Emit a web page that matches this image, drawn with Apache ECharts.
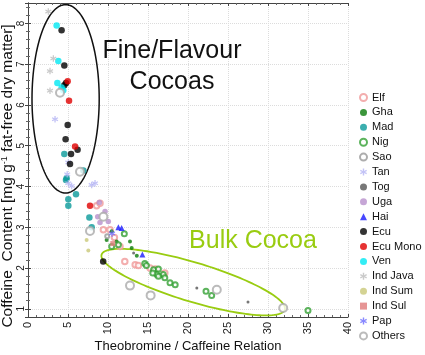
<!DOCTYPE html>
<html><head><meta charset="utf-8">
<script src="https://cdn.jsdelivr.net/npm/echarts@6/dist/echarts.min.js"></script>
<style>html,body{margin:0;padding:0;background:#fff}#c{width:425px;height:355px}</style>
</head><body><div id="c"></div>
<script>
// ---- data (x = Theobromine/Caffeine relation, y = caffeine content) ----
const categories = ['Elf','Gha','Mad','Nig','Sao','Tan','Tog','Uga','Hai','Ecu','Ecu Mono','Ven','Ind Java','Ind Sum','Ind Sul','Pap','Others'];
const elf = [[8.58,3.53],[9.42,2.94],[10.25,2.94],[10.8,2.75],[11.5,2.53],[12.1,2.16],[13.4,2.08],[13.8,2.06],[15.25,2.0],[15.9,1.98],[17.1,1.88],[9.0,3.59]];
const gha = [[10.46,2.90],[9.83,2.69],[11.08,2.65],[12.75,2.65],[12.96,2.49],[13.6,2.30],[16.7,1.81]];
const mad = [[4.54,4.80],[6.92,4.39],[4.83,4.20],[4.75,4.16],[6.0,3.81],[5.04,3.69],[5.04,3.53],[7.67,3.24],[7.96,3.0]];
const nig = [[12.04,2.84],[11.3,2.57],[10.46,2.53],[14.6,2.11],[14.8,2.06],[15.7,1.96],[16.3,1.98],[16.1,1.84],[15.6,1.88],[16.9,1.84],[16.3,1.80],[17.1,1.76],[17.75,1.64],[18.4,1.59],[22.25,1.43],[22.96,1.33],[35.0,0.96]];
const sao = [[9.9,2.78]];
const tan = [[3.38,5.65],[5.04,4.59],[5.04,4.08],[5.46,4.01],[7.96,4.04],[8.38,4.08],[4.9,4.3]];
const tog = [[13.2,2.37],[21.1,1.51],[27.5,1.17]];
const uga = [[8.92,3.61],[8.71,3.26],[9.63,3.39],[9.0,3.12],[10.04,3.14]];
const hai = [[11.3,3.0],[11.7,2.98],[14.3,2.33]];
const ecu = [[4.2,7.83],[4.54,6.97],[4.75,6.54],[4.54,6.48],[4.96,5.51],[4.7,5.16],[6.2,4.90],[5.38,4.80],[5.25,4.55],[9.4,2.16]];
const ecuMono = [[4.96,6.58],[5.13,6.10],[5.88,4.98],[7.75,3.53]];
const ven = [[3.58,7.95],[3.79,7.08],[3.67,6.54],[4.2,6.43],[4.41,6.36]];
const indJava = [[2.54,8.29],[3.17,7.14],[2.75,6.83],[2.75,6.35]];
const indSum = [[7.33,2.69],[7.54,2.43]];
const indSul = [[10.6,2.6]];
const pap = [[10.5,2.85]];
const others = [[4.0,6.30],[6.5,4.36],[9.42,3.26],[7.75,2.91],[12.75,1.57],[15.33,1.33],[23.6,1.47],[31.9,1.02]];
// annotation ellipses (data units)
const fineEllipse = [4.7, 6.15, 4.2, 2.31];          // cx, cy, rx, ry
const bulkEllipse = [9.2, 2.33, 32.1, 0.98, 0.48];   // tip1 x,y ; tip2 x,y ; half-width (y units)
const xTicks = [0, 40, 5];

const seriesData = [elf,gha,mad,nig,sao,tan,tog,uga,hai,ecu,ecuMono,ven,indJava,indSum,indSul,pap,others];
const asterisk = 'path://M4,0L6,0L6,3.5L9,1.8L10,3.5L7,5L10,6.5L9,8.2L6,6.5L6,10L4,10L4,6.5L1,8.2L0,6.5L3,5L0,3.5L1,1.8L4,3.5Z';
const styles = [
  {symbol:'emptyCircle', color:'#f09a9a', size:5.5},
  {symbol:'circle', color:'#0a7a0a', size:4},
  {symbol:'circle', color:'#0a9a9a', size:6.5},
  {symbol:'emptyCircle', color:'#33a033', size:5},
  {symbol:'emptyCircle', color:'#999999', size:4},
  {symbol:asterisk, color:'#b4b4f4', size:6.5},
  {symbol:'circle', color:'#555555', size:3},
  {symbol:'circle', color:'#b890cc', size:5.5},
  {symbol:'triangle', color:'#1a1aff', size:6},
  {symbol:'circle', color:'#000000', size:6.5},
  {symbol:'circle', color:'#e00000', size:6.5},
  {symbol:'circle', color:'#00e8f2', size:6.5},
  {symbol:asterisk, color:'#bdbdbd', size:6.5},
  {symbol:'circle', color:'#c9c878', size:4},
  {symbol:'rect', color:'#e07a7a', size:5},
  {symbol:asterisk, color:'#6a6aff', size:6.5},
  {symbol:'emptyCircle', color:'#aaaaaa', size:8}
];

const font = '"Liberation Sans", Arial, sans-serif';
const series = categories.map((name, i) => ({
  name, type:'scatter', data: seriesData[i], symbol: styles[i].symbol, symbolSize: styles[i].size,
  itemStyle: {color: styles[i].color, borderColor: styles[i].color, borderWidth: styles[i].symbol==='emptyCircle'?1.3:0},
  emphasis:{disabled:true}, z:3
}));

series.push({
  type:'custom', name:'fineEllipse', silent:true, clip:false, z:2, data:[[fineEllipse[0], fineEllipse[1]]],
  renderItem(params, api){
    const c = api.coord([fineEllipse[0], fineEllipse[1]]);
    const s = api.size([fineEllipse[2], fineEllipse[3]]);
    const pts = [];
    for (let k=0;k<=120;k++){ const t = k/120*Math.PI*2; pts.push([c[0]+s[0]*Math.cos(t), c[1]+s[1]*Math.sin(t)]); }
    return {type:'polygon', shape:{points:pts}, style:{fill:'none', stroke:'#111', lineWidth:1.5}};
  }
});
series.push({
  type:'custom', name:'bulkEllipse', silent:true, clip:false, z:2, data:[[bulkEllipse[0], bulkEllipse[1]]],
  renderItem(params, api){
    const p1 = api.coord([bulkEllipse[0], bulkEllipse[1]]);
    const p2 = api.coord([bulkEllipse[2], bulkEllipse[3]]);
    const cx=(p1[0]+p2[0])/2, cy=(p1[1]+p2[1])/2;
    const a = Math.hypot(p2[0]-p1[0], p2[1]-p1[1])/2;
    const th = Math.atan2(p2[1]-p1[1], p2[0]-p1[0]);
    const b = api.size([0, bulkEllipse[4]])[1];
    const pts = [];
    for (let k=0;k<=160;k++){ const t=k/160*Math.PI*2;
      pts.push([cx + a*Math.cos(t)*Math.cos(th) - b*Math.sin(t)*Math.sin(th), cy + a*Math.cos(t)*Math.sin(th) + b*Math.sin(t)*Math.cos(th)]); }
    return {type:'polygon', shape:{points:pts}, style:{fill:'none', stroke:'#99cc11', lineWidth:1.8}};
  }
});

const axisLineStyle = {color:'#444', width:1};
const splitLine = {show:true, lineStyle:{color:'#dcdcdc', type:'dotted', width:1}};
const chart = echarts.init(document.getElementById('c'), null, {renderer:'canvas'});
chart.setOption({
  animation:false,
  backgroundColor:'#fff',
  grid:{left:28, right:77, top:3, bottom:38, containLabel:false, outerBoundsMode:'none'},
  legend:{
    data: categories, orient:'vertical', left:359, top:91, padding:0, itemWidth:7, itemHeight:7, itemGap:1.9,
    textStyle:{fontSize:11, fontFamily:font, color:'#111', lineHeight:13}, selectedMode:false
  },
  xAxis:[
    {type:'value', min:xTicks[0], max:xTicks[1], interval:xTicks[2], position:'bottom',
     name:'Theobromine / Caffeine Relation', nameLocation:'middle', nameGap:23, nameMoveOverlap:false,
     nameTextStyle:{fontSize:13, fontFamily:font, color:'#111'},
     axisLine:{lineStyle:axisLineStyle}, axisTick:{inside:true, length:3, lineStyle:axisLineStyle},
     minorTick:{show:true, splitNumber:5, length:2, lineStyle:{color:'#666'}},
     axisLabel:{rotate:90, fontSize:11, fontFamily:font, color:'#222', margin:5},
     splitLine},
    {type:'value', min:xTicks[0], max:xTicks[1], interval:xTicks[2], position:'top',
     axisLine:{lineStyle:axisLineStyle}, axisTick:{inside:true, length:3, lineStyle:axisLineStyle},
     minorTick:{show:true, splitNumber:5, length:2, lineStyle:{color:'#666'}},
     axisLabel:{show:false}, splitLine:{show:false}}
  ],
  yAxis:[
    {type:'value', min:0.8, max:8.5, splitNumber:8, position:'left',
     name:'Coffeine  Content [mg g{sup|-1} fat-free dry matter]', nameLocation:'middle', nameGap:12, nameMoveOverlap:false,
     nameTextStyle:{fontSize:15.5, fontFamily:font, color:'#111', padding:[0,32,0,0], rich:{sup:{fontSize:9, verticalAlign:'top', fontFamily:font, color:'#111'}}},
     axisLine:{lineStyle:axisLineStyle}, axisTick:{inside:true, length:3, lineStyle:axisLineStyle},
     minorTick:{show:true, splitNumber:5, length:2, lineStyle:{color:'#666'}},
     axisLabel:{rotate:90, fontSize:10, fontFamily:font, color:'#222', margin:2, showMinLabel:false, showMaxLabel:false},
     splitLine},
    {type:'value', min:0.8, max:8.5, splitNumber:8, position:'right',
     axisLine:{lineStyle:axisLineStyle}, axisTick:{inside:true, length:3, lineStyle:axisLineStyle},
     minorTick:{show:true, splitNumber:5, length:2, lineStyle:{color:'#666'}},
     axisLabel:{show:false}, splitLine:{show:false}}
  ],
  graphic:[
    {type:'text', x:172, y:36, z:10, style:{text:'Fine/Flavour\nCocoas', fill:'#111', font:'25px "Liberation Sans", Arial, sans-serif', align:'center', verticalAlign:'top', lineHeight:31}},
    {type:'text', x:253, y:229, z:10, style:{text:'Bulk Cocoa', fill:'#99cc11', font:'25px "Liberation Sans", Arial, sans-serif', align:'center', verticalAlign:'top'}}
  ],
  series
});
</script></body></html>
